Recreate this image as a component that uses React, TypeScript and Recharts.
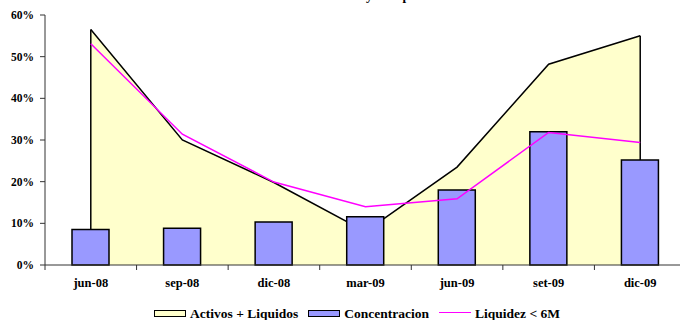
import React from "react";
import {
  ComposedChart,
  Area,
  Bar,
  Line,
  XAxis,
  YAxis,
  Legend,
  ReferenceLine,
} from "recharts";

// periods on the x axis
const periodos = ["jun-08", "sep-08", "dic-08", "mar-09", "jun-09", "set-09", "dic-09"];
// values in %
const activosLiquidos = [56.5, 30.0, 19.8, 8.0, 23.5, 48.2, 55.0];
const concentracion = [8.5, 8.8, 10.3, 11.6, 18.0, 32.0, 25.2];
const liquidez6M = [53.1, 31.4, 19.9, 14.0, 15.9, 31.8, 29.4];
const yTicks = [0, 10, 20, 30, 40, 50, 60];

const seriesNames = {
  activos: "Activos + Liquidos",
  concentracion: "Concentracion",
  liquidez: "Liquidez < 6M",
};

const data = periodos.map((p, i) => ({
  periodo: p,
  activos: activosLiquidos[i],
  concentracion: concentracion[i],
  liquidez: liquidez6M[i],
}));

const FONT = '"Liberation Serif", "Times New Roman", "DejaVu Serif", serif';
const CHART_W = 686;
const CHART_H = 320;
const Y_AXIS_W = 45;
const BAND = (CHART_W - Y_AXIS_W) / periodos.length;

// label at the centre, tick mark at the left edge of each category
const XTick = (props: any) => {
  const { x, y, payload } = props;
  return (
    <g>
      <line x1={x - BAND / 2} y1={y} x2={x - BAND / 2} y2={y + 5} stroke="#333" strokeWidth={1} />
      <text
        x={x}
        y={y + 22}
        textAnchor="middle"
        fontFamily={FONT}
        fontWeight="bold"
        fontSize={12.5}
        fill="#000"
      >
        {payload.value}
      </text>
    </g>
  );
};

const swatch = (key: string) => {
  if (key === "liquidez") {
    return <span style={{ display: "inline-block", width: 32, height: 0, borderTop: "1.5px solid #FF00FF", marginBottom: 4 }} />;
  }
  const fill = key === "activos" ? "#FFFFCC" : "#9999FF";
  return (
    <span
      style={{
        display: "inline-block",
        width: 30,
        height: 5,
        background: fill,
        border: "1.5px solid #000",
        marginBottom: 1,
      }}
    />
  );
};

const LegendContent = (props: any) => {
  const { payload = [] } = props;
  return (
    <div style={{ display: "flex", justifyContent: "center", gap: 10, fontFamily: FONT, fontWeight: "bold", fontSize: 13.5 }}>
      {payload.map((entry: any) => (
        <div key={entry.dataKey} style={{ display: "flex", alignItems: "center", gap: 4 }}>
          {swatch(entry.dataKey)}
          <span>{entry.value}</span>
        </div>
      ))}
    </div>
  );
};

export default function App() {
  return (
    <div style={{ position: "absolute", left: 0, top: 0, width: 680, height: 320, overflow: "hidden", background: "#fff" }}>
      <ComposedChart
        width={CHART_W}
        height={CHART_H}
        data={data}
        margin={{ top: 15, right: 0, left: 0, bottom: 25 }}
        barSize={37}
      >
        {/* chart title, mostly above the visible area */}
        <text x={366} y={0} textAnchor="end" fontFamily={FONT} fontWeight="bold" fontSize={13}>
          Ratios de Concentracion{" "}
        </text>
        <text x={366} y={0} textAnchor="start" fontFamily={FONT} fontWeight="bold" fontSize={13}>
          y Composicion
        </text>
        <XAxis
          dataKey="periodo"
          height={30}
          tickLine={false}
          tickSize={0}
          tickMargin={0}
          tick={<XTick />}
          axisLine={{ stroke: "#333", strokeWidth: 1 }}
          interval={0}
        />
        <YAxis
          width={Y_AXIS_W}
          domain={[0, 60]}
          ticks={yTicks}
          tickFormatter={(v) => `${v}%`}
          tickSize={5}
          tickMargin={6}
          tick={{ fontFamily: FONT, fontWeight: "bold", fontSize: 11.5, fill: "#000" }}
          tickLine={{ stroke: "#333" }}
          axisLine={{ stroke: "#333", strokeWidth: 1 }}
        />
        <Area
          type="linear"
          dataKey="activos"
          name={seriesNames.activos}
          fill="#FFFFCC"
          fillOpacity={1}
          stroke="#000"
          strokeWidth={1.5}
          dot={false}
          activeDot={false}
          isAnimationActive={false}
        />
        {/* closing vertical edges of the area, down to the bar tops */}
        <ReferenceLine
          segment={[
            { x: periodos[0], y: concentracion[0] },
            { x: periodos[0], y: activosLiquidos[0] },
          ]}
          stroke="#000"
          strokeWidth={1.5}
        />
        <ReferenceLine
          segment={[
            { x: periodos[periodos.length - 1], y: concentracion[concentracion.length - 1] },
            { x: periodos[periodos.length - 1], y: activosLiquidos[activosLiquidos.length - 1] },
          ]}
          stroke="#000"
          strokeWidth={1.5}
        />
        <Bar
          dataKey="concentracion"
          name={seriesNames.concentracion}
          fill="#9999FF"
          stroke="#000"
          strokeWidth={1.5}
          isAnimationActive={false}
        />
        <Line
          type="linear"
          dataKey="liquidez"
          name={seriesNames.liquidez}
          stroke="#FF00FF"
          strokeWidth={1.5}
          dot={false}
          activeDot={false}
          isAnimationActive={false}
        />
        <Legend
          verticalAlign="middle"
          content={<LegendContent />}
          wrapperStyle={{ top: 306, left: 0, width: 714 }}
        />
      </ComposedChart>
    </div>
  );
}
